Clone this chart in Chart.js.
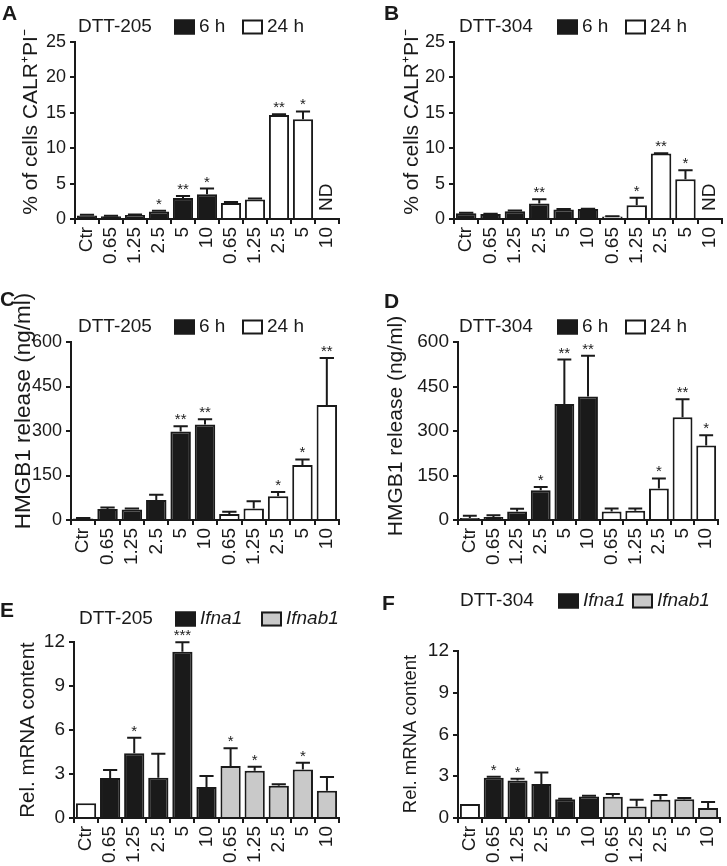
<!DOCTYPE html>
<html><head><meta charset="utf-8">
<script src="https://cdn.jsdelivr.net/npm/chart.js@4.4.1/dist/chart.umd.min.js"></script>
<style>
html,body{margin:0;padding:0;background:#fff;}
#wrap{position:relative;width:727px;height:866px;overflow:hidden;background:#fff;}
canvas{position:absolute;}
</style></head><body><div id="wrap">
<canvas id="cA" width="364" height="290" style="left:0px;top:0px"></canvas>
<canvas id="cB" width="363" height="290" style="left:364px;top:0px"></canvas>
<canvas id="cC" width="364" height="290" style="left:0px;top:290px"></canvas>
<canvas id="cD" width="363" height="290" style="left:364px;top:290px"></canvas>
<canvas id="cE" width="364" height="286" style="left:0px;top:580px"></canvas>
<canvas id="cF" width="363" height="286" style="left:364px;top:580px"></canvas>
</div>
<script>
// ---------- data ----------
const categories = ['Ctr','0.65','1.25','2.5','5','10','0.65','1.25','2.5','5','10'];
const N = null;

// A: DTT-205, % CALR+PI-
const calr205_6h      = [0.5, 0.4, 0.55, 1.05, 2.95, 3.5, N, N, N, N, N];
const calr205_6h_err  = [0.1, 0.05, 0.1, 0.1, 0.3, 0.8, N, N, N, N, N];
const calr205_24h     = [N, N, N, N, N, N, 2.25, 2.75, 14.7, 14.1, N];
const calr205_24h_err = [N, N, N, N, N, N, 0.15, 0.15, 0.1, 1.1, N];
const calr205_stars   = ['', '', '', '*', '**', '*', '', '', '**', '*', ''];
const calr205_notes   = ['', '', '', '', '', '', '', '', '', '', 'ND'];

// B: DTT-304, % CALR+PI-
const calr304_6h      = [0.8, 0.7, 1.1, 2.2, 1.35, 1.4, N, N, N, N, N];
const calr304_6h_err  = [0.1, 0.05, 0.1, 0.6, 0.05, 0.05, N, N, N, N, N];
const calr304_24h     = [N, N, N, N, N, N, 0.35, 1.95, 9.25, 5.6, N];
const calr304_24h_err = [N, N, N, N, N, N, 0.05, 1.05, 0.05, 1.3, N];
const calr304_stars   = ['', '', '', '**', '', '', '', '*', '**', '*', ''];
const calr304_notes   = ['', '', '', '', '', '', '', '', '', '', 'ND'];

// C: DTT-205, HMGB1
const hmgb205_6h      = [5, 37, 35, 67, 298, 322, N, N, N, N, N];
const hmgb205_6h_err  = [2, 5, 4, 18, 18, 18, N, N, N, N, N];
const hmgb205_24h     = [N, N, N, N, N, N, 20, 39, 80, 185, 388];
const hmgb205_24h_err = [N, N, N, N, N, N, 8, 24, 14, 19, 158];
const hmgb205_stars   = ['', '', '', '', '**', '**', '', '', '*', '*', '**'];

// D: DTT-304, HMGB1
const hmgb304_6h      = [7, 10, 29, 100, 391, 416, N, N, N, N, N];
const hmgb304_6h_err  = [7, 6, 9, 11, 150, 138, N, N, N, N, N];
const hmgb304_24h     = [N, N, N, N, N, N, 29, 31, 106, 346, 251];
const hmgb304_24h_err = [N, N, N, N, N, N, 10, 8, 34, 61, 35];
const hmgb304_stars   = ['', '', '', '*', '**', '**', '', '', '*', '**', '*'];

// E: DTT-205, mRNA
const mrna205_ctr        = [1.0, N, N, N, N, N, N, N, N, N, N];
const mrna205_ifna1      = [N, 2.72, 4.42, 2.75, 11.33, 2.12, N, N, N, N, N];
const mrna205_ifna1_err  = [N, 0.55, 1.05, 1.63, 0.65, 0.74, N, N, N, N, N];
const mrna205_ifnab1     = [N, N, N, N, N, N, 3.55, 3.22, 2.2, 3.3, 1.85];
const mrna205_ifnab1_err = [N, N, N, N, N, N, 1.2, 0.28, 0.1, 0.47, 0.95];
const mrna205_stars      = ['', '', '*', '', '***', '', '*', '*', '', '*', ''];

// F: DTT-304, mRNA
const mrna304_ctr        = [1.0, N, N, N, N, N, N, N, N, N, N];
const mrna304_ifna1      = [N, 2.9, 2.7, 2.45, 1.35, 1.55, N, N, N, N, N];
const mrna304_ifna1_err  = [N, 0.07, 0.12, 0.82, 0.03, 0.05, N, N, N, N, N];
const mrna304_ifnab1     = [N, N, N, N, N, N, 1.52, 0.82, 1.32, 1.35, 0.72];
const mrna304_ifnab1_err = [N, N, N, N, N, N, 0.2, 0.5, 0.33, 0.08, 0.43];
const mrna304_stars      = ['', '*', '*', '', '', '', '', '', '', '', ''];

// ---------- style ----------
const INK = '#1a1a1a';
const WHITE = '#ffffff';
const GREY = '#c9c9c9';
const FONT = '"Liberation Sans", Arial, Helvetica, sans-serif';

const deco = {
  id: 'panelDeco',
  afterDatasetsDraw(chart, args, o) {
    const ctx = chart.ctx, xs = chart.scales.x, ys = chart.scales.y;
    ctx.save();
    ctx.strokeStyle = INK; ctx.lineWidth = 2;
    const tops = [];
    chart.data.datasets.forEach((ds, di) => {
      const meta = chart.getDatasetMeta(di);
      ds.data.forEach((v, i) => {
        if (v == null) return;
        const e = ds.errors ? ds.errors[i] : null;
        const el = meta.data[i];
        let top = v;
        if (e) {
          top = v + e;
          const yT = ys.getPixelForValue(v + e);
          const cap = el.width * 0.7;
          ctx.beginPath();
          ctx.moveTo(el.x, el.y); ctx.lineTo(el.x, yT);
          ctx.moveTo(el.x - cap / 2, yT); ctx.lineTo(el.x + cap / 2, yT);
          ctx.stroke();
        }
        tops[i] = Math.max(tops[i] == null ? 0 : tops[i], top);
      });
    });
    ctx.fillStyle = INK;
    ctx.font = '15px ' + FONT; ctx.textAlign = 'center'; ctx.textBaseline = 'alphabetic';
    (o.stars || []).forEach((s, i) => {
      if (!s) return;
      ctx.fillText(s, xs.getPixelForValue(i), ys.getPixelForValue(tops[i] || 0) - 2);
    });
    (o.notes || []).forEach((n, i) => {
      if (!n) return;
      ctx.save();
      ctx.translate(xs.getPixelForValue(i), ys.getPixelForValue(0) - 8);
      ctx.rotate(-Math.PI / 2);
      ctx.textAlign = 'left'; ctx.textBaseline = 'middle';
      ctx.font = '19px ' + FONT;
      ctx.fillText(n, 0, 0);
      ctx.restore();
    });
    ctx.restore();
  },
  afterDraw(chart, args, o) {
    const ctx = chart.ctx;
    const L = o.legend;
    ctx.save();
    ctx.fillStyle = INK; ctx.textAlign = 'left'; ctx.textBaseline = 'middle';
    ctx.font = '19px ' + FONT;
    ctx.fillText(L.title, L.titleX, L.y);
    let k = 0;
    chart.data.datasets.forEach(ds => {
      if (ds.inLegend === false) return;
      const bx = L.boxes[k++];
      ctx.fillStyle = ds.backgroundColor;
      ctx.fillRect(bx, L.y - 7.5, 21, 15);
      ctx.strokeStyle = INK; ctx.lineWidth = 2;
      ctx.strokeRect(bx + 1, L.y - 6.5, 19, 13);
      ctx.fillStyle = INK;
      ctx.font = (L.italic ? 'italic ' : '') + '19px ' + FONT;
      ctx.fillText(ds.label, bx + 25, L.y);
    });
    // y-axis title
    const T = o.yTitle;
    ctx.save();
    ctx.translate(T.x, T.y);
    ctx.rotate(-Math.PI / 2);
    ctx.textAlign = 'center'; ctx.textBaseline = 'middle';
    ctx.font = T.size + 'px ' + FONT;
    ctx.fillText(T.text, 0, 0);
    ctx.restore();
    // panel letter
    ctx.font = 'bold 21px ' + FONT;
    ctx.textAlign = 'left';
    ctx.textBaseline = 'alphabetic';
    ctx.fillText(o.letter.text, o.letter.x, o.letter.y);
    ctx.restore();
  }
};

function makePanel(id, p) {
  const cv = document.getElementById(id);
  const W = cv.width, H = cv.height;
  return new Chart(cv, {
    type: 'bar',
    data: {
      labels: categories,
      datasets: p.datasets.map(d => ({
        label: d.label, data: d.data, errors: d.errors, inLegend: d.inLegend,
        backgroundColor: d.fill, borderColor: INK, borderWidth: 2,
        grouped: false, categoryPercentage: 1, barPercentage: 0.84
      }))
    },
    options: {
      responsive: false, animation: false, devicePixelRatio: 1,
      layout: { padding: { left: p.padLeft, top: p.area.top, right: W - p.area.right, bottom: 0 } },
      plugins: {
        legend: { display: false }, tooltip: { enabled: false },
        panelDeco: { stars: p.stars, notes: p.notes || [], legend: p.legend, letter: p.letter, yTitle: p.yTitle }
      },
      scales: {
        x: {
          grid: { offset: true, drawOnChartArea: false, drawTicks: true, tickLength: 5, color: INK, lineWidth: 2 },
          border: { color: INK, width: 2 },
          ticks: { color: INK, font: { family: FONT, size: 19 }, minRotation: 90, maxRotation: 90, autoSkip: false, padding: 3 },
          afterFit: s => { s.height = H - p.area.bottom; s.paddingLeft = 0; s.paddingRight = 0; }
        },
        y: {
          min: 0, max: p.yMax,
          ticks: { stepSize: p.step, color: INK, font: { family: FONT, size: p.tickSize }, padding: 4 },
          grid: { drawOnChartArea: false, tickLength: 5, color: INK, lineWidth: 2 },
          border: { color: INK, width: 2 },
          title: { display: false, text: p.yTitle.text },
          afterFit: s => { s.width = p.area.left - p.padLeft; s.paddingTop = 0; s.paddingBottom = 0; }
        }
      }
    },
    plugins: [deco]
  });
}

makePanel('cA', {
  area: { left: 75, top: 42, right: 339, bottom: 219 }, padLeft: 0, tickSize: 18,
  yMax: 25, step: 5,
  yTitle: { text: '% of cells CALR\u207API\u207B', x: 31, y: 122, size: 21 },
  datasets: [
    { label: '6 h', data: calr205_6h, errors: calr205_6h_err, fill: INK },
    { label: '24 h', data: calr205_24h, errors: calr205_24h_err, fill: WHITE }
  ],
  stars: calr205_stars, notes: calr205_notes,
  legend: { y: 27, title: 'DTT-205', titleX: 78, boxes: [174, 242] },
  letter: { text: 'A', x: 2, y: 20 }
});
makePanel('cB', {
  area: { left: 90, top: 42, right: 358, bottom: 219 }, padLeft: 0, tickSize: 18,
  yMax: 25, step: 5,
  yTitle: { text: '% of cells CALR\u207API\u207B', x: 48, y: 122, size: 21 },
  datasets: [
    { label: '6 h', data: calr304_6h, errors: calr304_6h_err, fill: INK },
    { label: '24 h', data: calr304_24h, errors: calr304_24h_err, fill: WHITE }
  ],
  stars: calr304_stars, notes: calr304_notes,
  legend: { y: 27, title: 'DTT-304', titleX: 95, boxes: [193, 261] },
  letter: { text: 'B', x: 20, y: 20 }
});
makePanel('cC', {
  area: { left: 71, top: 52, right: 339, bottom: 230 }, padLeft: 0, tickSize: 18,
  yMax: 600, step: 150,
  yTitle: { text: 'HMGB1 release (ng/ml)', x: 24, y: 121, size: 22.5 },
  datasets: [
    { label: '6 h', data: hmgb205_6h, errors: hmgb205_6h_err, fill: INK },
    { label: '24 h', data: hmgb205_24h, errors: hmgb205_24h_err, fill: WHITE }
  ],
  stars: hmgb205_stars,
  legend: { y: 37, title: 'DTT-205', titleX: 78, boxes: [174, 242] },
  letter: { text: 'C', x: 0, y: 16 }
});
makePanel('cD', {
  area: { left: 94, top: 52, right: 354, bottom: 230 }, padLeft: 0, tickSize: 19,
  yMax: 600, step: 150,
  yTitle: { text: 'HMGB1 release (ng/ml)', x: 32, y: 136, size: 21 },
  datasets: [
    { label: '6 h', data: hmgb304_6h, errors: hmgb304_6h_err, fill: INK },
    { label: '24 h', data: hmgb304_24h, errors: hmgb304_24h_err, fill: WHITE }
  ],
  stars: hmgb304_stars,
  legend: { y: 37, title: 'DTT-304', titleX: 95, boxes: [193, 261] },
  letter: { text: 'D', x: 20, y: 18 }
});
makePanel('cE', {
  area: { left: 74, top: 62, right: 339, bottom: 238 }, padLeft: 0, tickSize: 19,
  yMax: 12, step: 3,
  yTitle: { text: 'Rel. mRNA content', x: 28.5, y: 150, size: 20.5 },
  datasets: [
    { label: 'Ctr', data: mrna205_ctr, errors: null, fill: WHITE, inLegend: false },
    { label: 'Ifna1', data: mrna205_ifna1, errors: mrna205_ifna1_err, fill: INK },
    { label: 'Ifnab1', data: mrna205_ifnab1, errors: mrna205_ifnab1_err, fill: GREY }
  ],
  stars: mrna205_stars,
  legend: { y: 39, title: 'DTT-205', titleX: 79, boxes: [175, 261], italic: true },
  letter: { text: 'E', x: 0, y: 37 }
});
makePanel('cF', {
  area: { left: 94, top: 71, right: 356, bottom: 238 }, padLeft: 0, tickSize: 19,
  yMax: 12, step: 3,
  yTitle: { text: 'Rel. mRNA content', x: 46.5, y: 154, size: 18.5 },
  datasets: [
    { label: 'Ctr', data: mrna304_ctr, errors: null, fill: WHITE, inLegend: false },
    { label: 'Ifna1', data: mrna304_ifna1, errors: mrna304_ifna1_err, fill: INK },
    { label: 'Ifnab1', data: mrna304_ifnab1, errors: mrna304_ifnab1_err, fill: GREY }
  ],
  stars: mrna304_stars,
  legend: { y: 21, title: 'DTT-304', titleX: 96, boxes: [194, 268], italic: true },
  letter: { text: 'F', x: 18, y: 30 }
});
</script>
</body></html>
